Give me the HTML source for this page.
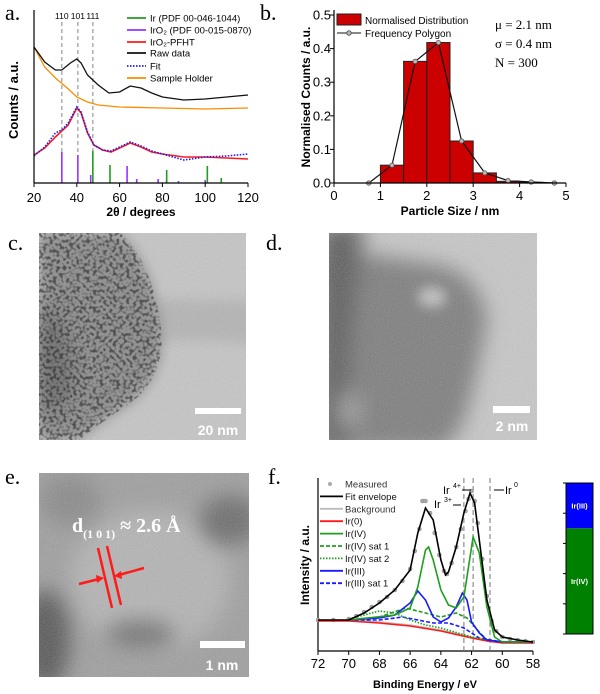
<!DOCTYPE html>
<html><head><meta charset="utf-8">
<style>
html,body{margin:0;padding:0;background:#fff;}
body{width:600px;height:694px;overflow:hidden;position:relative;font-family:"Liberation Sans",sans-serif;}
svg{position:absolute;left:0;top:0;}
.pl{font-family:"Liberation Serif",serif;font-size:22px;}
</style></head>
<body>
<svg id="fig" width="600" height="694" viewBox="0 0 600 694" xmlns="http://www.w3.org/2000/svg">
<defs>
<filter id="noise" x="0" y="0" width="100%" height="100%"><feTurbulence type="fractalNoise" baseFrequency="0.9" numOctaves="2" seed="3"/><feColorMatrix type="saturate" values="0"/><feComponentTransfer><feFuncA type="linear" slope="0.35"/></feComponentTransfer></filter>
<filter id="pores" x="0" y="0" width="100%" height="100%"><feTurbulence type="fractalNoise" baseFrequency="0.3" numOctaves="1" seed="7"/><feColorMatrix type="matrix" values="0 0 0 0 0  0 0 0 0 0  0 0 0 0 0  5 0 0 0 -2.3"/></filter>
<filter id="blur6" x="-50%" y="-50%" width="200%" height="200%"><feGaussianBlur stdDeviation="6"/></filter>
<filter id="blur10" x="-50%" y="-50%" width="200%" height="200%"><feGaussianBlur stdDeviation="10"/></filter>
<clipPath id="cc"><rect x="39" y="233" width="207" height="207"/></clipPath>
<clipPath id="cblob"><path d="M39 233 L120 233 Q150 260 160 320 Q170 380 120 410 Q90 430 80 440 L39 440 Z"/></clipPath>
<clipPath id="cd"><rect x="329" y="233" width="208" height="207"/></clipPath>
<clipPath id="ce"><rect x="39" y="473" width="210" height="204"/></clipPath>
</defs>

<text class="pl" x="5" y="20">a.</text>
<text class="pl" x="260" y="20">b.</text>
<text class="pl" x="8" y="250">c.</text>
<text class="pl" x="266" y="250">d.</text>
<text class="pl" x="5" y="484">e.</text>
<text class="pl" x="268" y="484">f.</text>

<g id="pa"></g>
<g id="pb"></g>

<g clip-path="url(#cc)">
<rect x="39" y="233" width="207" height="207" fill="#c6c6c6"/>
<path d="M150 300 L260 300 L260 345 Q200 338 150 342 Z" fill="#b4b4b4" filter="url(#blur6)"/>
<path d="M39 233 L120 233 Q150 260 160 320 Q170 380 120 410 Q90 430 80 440 L39 440 Z" fill="#8a8a8a" filter="url(#blur6)"/>
<path d="M39 300 Q80 330 70 400 L39 420 Z" fill="#666" filter="url(#blur10)"/>
<g clip-path="url(#cblob)"><rect x="39" y="233" width="140" height="207" filter="url(#pores)" opacity="0.55"/></g>
<rect x="39" y="233" width="207" height="207" filter="url(#noise)"/>
<rect x="195" y="408" width="46" height="6" fill="#fff"/>
<text x="218" y="435" fill="#fff" font-weight="bold" font-size="14" text-anchor="middle">20 nm</text>
</g>

<g clip-path="url(#cd)">
<rect x="329" y="233" width="208" height="207" fill="#c8c8c8"/>
<path d="M329 250 Q380 255 440 265 Q480 275 487 320 Q480 360 470 400 Q460 440 440 450 L329 450 Z" fill="#7c7c7c" filter="url(#blur10)"/>
<path d="M320 225 L365 225 Q350 300 345 450 L320 450 Z" fill="#5a5a5a" filter="url(#blur10)"/>
<ellipse cx="432" cy="297" rx="14" ry="10" fill="#c4c4c4" filter="url(#blur6)"/>
<ellipse cx="350" cy="410" rx="12" ry="18" fill="#a0a0a0" filter="url(#blur10)"/>
<rect x="329" y="233" width="208" height="207" filter="url(#noise)"/>
<rect x="493" y="406" width="37" height="7" fill="#fff"/>
<text x="512" y="431" fill="#fff" font-weight="bold" font-size="14" text-anchor="middle">2 nm</text>
</g>

<g clip-path="url(#ce)">
<rect x="39" y="473" width="210" height="204" fill="#9e9e9e"/>
<ellipse cx="150" cy="580" rx="80" ry="70" fill="#b4b4b4" filter="url(#blur10)"/>
<ellipse cx="45" cy="640" rx="25" ry="50" fill="#555" filter="url(#blur10)"/>
<ellipse cx="140" cy="635" rx="35" ry="15" fill="#737373" filter="url(#blur10)"/>
<ellipse cx="230" cy="520" rx="30" ry="25" fill="#6a6a6a" filter="url(#blur10)"/>
<ellipse cx="70" cy="500" rx="30" ry="25" fill="#888" filter="url(#blur10)"/>
<rect x="39" y="473" width="210" height="204" filter="url(#noise)"/>
<rect x="200" y="641" width="45" height="7" fill="#fff"/>
<text x="222" y="670" fill="#fff" font-weight="bold" font-size="14" text-anchor="middle">1 nm</text>
<text x="72" y="532" fill="#fff" font-family="Liberation Serif,serif" font-weight="bold" font-size="20">d<tspan font-size="12" dy="6">(1 0 1)</tspan><tspan dy="-6"> ≈ 2.6 Å</tspan></text>
<g stroke="#ff1a1a" stroke-width="2.5">
<line x1="98" y1="548" x2="112" y2="608"/><line x1="107" y1="546" x2="121" y2="605"/>
<line x1="79" y1="584" x2="99" y2="579"/><line x1="144" y1="568" x2="119" y2="575"/>
</g>
<polygon points="104,578 96,575 97,583" fill="#ff1a1a"/>
<polygon points="114,576 121,571 122,579" fill="#ff1a1a"/>
</g>

<g id="pf"></g>
<g id="pbar"></g>
</svg>

<script>
// ---------- Panel a data ----------
const xrdRawX = [20,25,30,33,37,40,42,45,50,55,60,65,70,75,80,90,100,110,120];
const xrdRawY = [136,121,113,113,120,124,120,108,98,90,91,97,95,90,86,83,84,86,88];
const holderX = [20,25,30,35,40,45,50,60,80,100,120];
const holderY = [136,116,105,96,86,81,78,76,75,74,75];
const pfhtX = [20,25,30,33,36,40,42,45,48,52,56,60,65,70,75,80,90,100,120];
const pfhtY = [28,35,46,52,58,75,70,50,38,33,31,35,40,36,31,29,26,26,24];
const fitX = [20,25,30,33,36,40,42,45,48,52,56,60,65,70,75,80,90,100,110,120];
const fitY = [27,36,50,53,60,76,71,51,38,33,32,36,41,37,32,29,23,26,27,29];
const irSticksX = [47.5,55.5,82,101,107.5];
const irSticksH = [32,18,13,17,5];
const iro2SticksX = [33,40.5,46.5,63.5,68,78,82,87.5,100];
const iro2SticksH = [31,28,8,17,4,4,3,2,3];
const hklX = [33,40.5,47.5];
const hklLabels = ["110","101","111"];
const xrdTicks = [20,40,60,80,100,120];

// ---------- Panel b data ----------
const binStarts = [1,1.5,2,2.5,3,3.5,4];
const binValues = [0.053,0.362,0.418,0.125,0.03,0.005,0.002];
const polyX = [0.75,1.25,1.75,2.25,2.75,3.25,3.75,4.25,4.75];
const polyY = [0,0.053,0.362,0.418,0.125,0.03,0.007,0.003,0];
const bxTicks = [0,1,2,3,4,5];
const byTicks = [0,0.1,0.2,0.3,0.4,0.5];
const byTickLabels = ["0.0","0.1","0.2","0.3","0.4","0.5"];

// ---------- Panel f data ----------
const envX = [72,70,69,68,67,66,65.5,65,64.5,64,63.7,63.5,63,62.5,62.1,61.8,61.5,61,60.5,60,59,58];
const envY = [31,31,38,48,61,81,118,143,131,91,76,79,104,138,158,148,111,51,21,14,11,9];
const measX = [72,71,70,69.5,69,68.5,68,67.5,67,66.5,66,65.7,65.4,65.2,65,64.7,64.4,64.1,63.8,63.6,63.3,63,62.7,62.4,62.2,62,61.8,61.6,61.3,61,60.7,60.4,60,59.5,59,58.5,58];
const measY = [31,31,32,35,39,44,49,54,61,70,82,100,122,150,150,138,118,96,80,77,88,104,122,140,152,160,150,128,92,55,30,20,14,12,11,10,9];
const bgX = [72,70,68,66,64,62,61,60,58];
const bgY = [31,31,29,26,21,14,11,9,9];
const ir0Y = [30,30,28,25,20,13,10,8,8];
const ir4X = [70,67,66,65.5,65,64.8,64.5,64,63.5,63,62.5,62.2,61.9,61.5,61,60.5,60,58];
const ir4Y = [31,36,43,64,101,104,91,61,46,43,54,84,114,98,44,14,9,9];
const ir3X = [70,68,67,66,65.5,65,64.5,64,63.5,63,62.6,62.3,62,61.5,61,60,58];
const ir3Y = [31,33,36,48,60,51,34,29,33,44,58,51,29,18,11,9,9];
const ir4s1X = [70,68,66.3,65,64,63,62.3,61.5,61,60,58];
const ir4s1Y = [31,34,43,38,34,38,33,19,11,9,9];
const ir4s2X = [70,68,67,66,65,64,62,60,58];
const ir4s2Y = [32,40,38,31,26,23,14,9,9];
const ir3s1X = [70,68,66.5,65.5,64.5,63.5,62.5,61.5,60,58];
const ir3s1Y = [31,31,34,31,28,28,23,13,9,9];
const refLinesX = [62.5,61.9,60.8];
const fxTicks = [72,70,68,66,64,62,60,58];
const irIIIFraction = [0.3];

const NS = "http://www.w3.org/2000/svg";
function mk(parent, tag, attrs, text){
  const el = document.createElementNS(NS, tag);
  for (const k in attrs) el.setAttribute(k, attrs[k]);
  if (text !== undefined) el.textContent = text;
  parent.appendChild(el);
  return el;
}
function pathD(xs, ys, sx, sy){
  return xs.map((x,i)=>(i?"L":"M")+sx(x).toFixed(1)+" "+sy(ys[i]).toFixed(1)).join(" ");
}

// ===== Panel a =====
(function(){
  const g = document.getElementById('pa');
  const X0=34,X1=248,Y0=183;
  const sx = v => X0 + (v-20)/100*(X1-X0);
  const sy = v => Y0 - v;
  hklX.forEach((h,i)=>{
    const l = mk(g,'line',{x1:sx(h),x2:sx(h),y1:22,y2:Y0,stroke:'#999','stroke-width':1.2,'stroke-dasharray':'4,3'});
    
    
    const t = mk(g,'text',{x:sx(h),y:19,'font-size':8.5,'text-anchor':'middle'},hklLabels[i]);
    
    
  });
  iro2SticksX.forEach((x,i)=>{
    const l = mk(g,'line',{x1:sx(x),x2:sx(x),y1:Y0,y2:sy(iro2SticksH[i]),stroke:'#9933ff','stroke-width':1.6});
    
    
  });
  irSticksX.forEach((x,i)=>{
    const l = mk(g,'line',{x1:sx(x),x2:sx(x),y1:Y0,y2:sy(irSticksH[i]),stroke:'#1f9e1f','stroke-width':1.6});
    
    
  });
  const p1 = mk(g,'path',{d:pathD(holderX,holderY,sx,sy),fill:'none',stroke:'#ff8c00','stroke-width':1.3});
   
  const p2 = mk(g,'path',{d:pathD(xrdRawX,xrdRawY,sx,sy),fill:'none',stroke:'#111','stroke-width':1.3});
   
  const p3 = mk(g,'path',{d:pathD(pfhtX,pfhtY,sx,sy),fill:'none',stroke:'#ff1a1a','stroke-width':1.6});
   
  const p4 = mk(g,'path',{d:pathD(fitX,fitY,sx,sy),fill:'none',stroke:'#1a1aff','stroke-width':1.6,'stroke-dasharray':'1.5,1.5'});
   
  mk(g,'line',{x1:X0,x2:X0,y1:10,y2:Y0,stroke:'#000','stroke-width':1.2});
  mk(g,'line',{x1:X0,x2:X1,y1:Y0,y2:Y0,stroke:'#000','stroke-width':1.2});
  xrdTicks.forEach(t=>{
    mk(g,'line',{x1:sx(t),x2:sx(t),y1:Y0,y2:Y0+4,stroke:'#000'});
    const tl = mk(g,'text',{x:sx(t),y:202,'font-size':13,'text-anchor':'middle'},t);
     
  });
  const xl = mk(g,'text',{x:141,y:216,'font-size':12,'font-weight':'bold','text-anchor':'middle'},'2θ / degrees');
   
  const yl = mk(g,'text',{x:0,y:0,'font-size':13,'font-weight':'bold','text-anchor':'middle',transform:'translate(18,100) rotate(-90)'},'Counts / a.u.');
   
  const leg = [['#1f9e1f','','Ir (PDF 00-046-1044)'],['#9933ff','','IrO₂ (PDF 00-015-0870)'],['#ff1a1a','','IrO₂-PFHT'],['#111','','Raw data'],['#1a1aff','1.5,1.5','Fit'],['#ff8c00','','Sample Holder']];
  const ly = [18,30,42,53,66,78];
  leg.forEach((e,i)=>{
    const lg = mk(g,'g',{});
     
    mk(lg,'line',{x1:127,x2:146,y1:ly[i],y2:ly[i],stroke:e[0],'stroke-width':1.8,'stroke-dasharray':e[1]||'none'});
    mk(lg,'text',{x:150,y:ly[i]+3.5,'font-size':9.5},e[2]);
  });
})();

// ===== Panel b =====
(function(){
  const g = document.getElementById('pb');
  const X0=334,X1=566,Y0=183,YT=15;
  const sx = v => X0 + v/5*(X1-X0);
  const sy = v => Y0 - v/0.5*(Y0-YT);
  binStarts.forEach((b,i)=>{
    const r = mk(g,'rect',{x:sx(b),y:sy(binValues[i]),width:sx(b+0.5)-sx(b),height:Y0-sy(binValues[i]),fill:'#cc0000',stroke:'#222','stroke-width':1});
     
  });
  const pl = mk(g,'path',{d:pathD(polyX,polyY,sx,sy),fill:'none',stroke:'#111','stroke-width':1.2});
   
  polyX.forEach((x,i)=>{
    const c = mk(g,'circle',{cx:sx(x),cy:sy(polyY[i]),r:2.2,fill:'#bbb',stroke:'#555','stroke-width':0.8});
     
  });
  mk(g,'line',{x1:X0,x2:X0,y1:10,y2:Y0,stroke:'#000','stroke-width':1.2});
  mk(g,'line',{x1:X0,x2:X1,y1:Y0,y2:Y0,stroke:'#000','stroke-width':1.2});
  bxTicks.forEach(t=>{
    mk(g,'line',{x1:sx(t),x2:sx(t),y1:Y0,y2:Y0+4,stroke:'#000'});
    const tl = mk(g,'text',{x:sx(t),y:200,'font-size':13,'text-anchor':'middle'},t);
     
  });
  byTicks.forEach((t,i)=>{
    mk(g,'line',{x1:X0-4,x2:X0,y1:sy(t),y2:sy(t),stroke:'#000'});
    const tl = mk(g,'text',{x:X0-3,y:sy(t)+4.5,'font-size':13,'text-anchor':'end'},byTickLabels[i]);
     
  });
  const xl = mk(g,'text',{x:450,y:215,'font-size':12,'font-weight':'bold','text-anchor':'middle'},'Particle Size / nm');
   
  const yl = mk(g,'text',{x:0,y:0,'font-size':12,'font-weight':'bold','text-anchor':'middle',transform:'translate(310,97) rotate(-90)'},'Normalised Counts / a.u.');
   
  const l1 = mk(g,'g',{});  
  mk(l1,'rect',{x:337,y:14,width:24,height:11,fill:'#cc0000',stroke:'#222'});
  mk(l1,'text',{x:365,y:24,'font-size':10},'Normalised Distribution');
  const l2 = mk(g,'g',{});  
  mk(l2,'line',{x1:337,x2:361,y1:33,y2:33,stroke:'#111'});
  mk(l2,'circle',{cx:349,cy:33,r:2.2,fill:'#bbb',stroke:'#555'});
  mk(l2,'text',{x:365,y:37,'font-size':10},'Frequency Polygon');
  ['μ = 2.1 nm','σ = 0.4 nm','N = 300'].forEach((s,i)=>{
    const t = mk(g,'text',{x:495,y:29+i*19,'font-size':13,'font-family':'Liberation Serif, serif'},s);
     
  });
})();

// ===== Panel f =====
(function(){
  const g = document.getElementById('pf');
  const X0=318,X1=533,Y0=651,YT=478;
  const sx = v => X0 + (72-v)/14*(X1-X0);
  const sy = v => Y0 - v;
  mk(g,'line',{x1:X0,x2:X0,y1:YT,y2:Y0,stroke:'#000','stroke-width':1.2});
  mk(g,'line',{x1:X0,x2:X1,y1:Y0,y2:Y0,stroke:'#000','stroke-width':1.2});
  refLinesX.forEach(x=>{
    const l = mk(g,'line',{x1:sx(x),x2:sx(x),y1:YT,y2:Y0,stroke:'#777','stroke-width':1,'stroke-dasharray':'5,3'});
     
  });
  measX.forEach((x,i)=>{
    const c = mk(g,'circle',{cx:sx(x),cy:sy(measY[i]),r:2,fill:'#aaa',stroke:'#888','stroke-width':0.5});
     
  });
  const series = [
    [bgX,bgY,'#bbb','', 'background-line'],
    [bgX,ir0Y,'#ff1a1a','', 'ir0-line'],
    [ir3s1X,ir3s1Y,'#1a1aff','4,2','ir3-sat1-line'],
    [ir4s2X,ir4s2Y,'#1f9e1f','1.5,1.5','ir4-sat2-line'],
    [ir4s1X,ir4s1Y,'#1f9e1f','4,2','ir4-sat1-line'],
    [ir3X,ir3Y,'#1a1aff','','ir3-line'],
    [ir4X,ir4Y,'#1f9e1f','','ir4-line'],
    [envX,envY,'#000','','fit-envelope-line']
  ];
  series.forEach(s=>{
    const p = mk(g,'path',{d:pathD(s[0],s[1],sx,sy),fill:'none',stroke:s[2],'stroke-width':1.6,'stroke-dasharray':s[3]||'none'});
     
  });
  fxTicks.forEach(t=>{
    mk(g,'line',{x1:sx(t),x2:sx(t),y1:Y0,y2:Y0+4,stroke:'#000'});
    const tl = mk(g,'text',{x:sx(t),y:668,'font-size':13,'text-anchor':'middle'},t);
     
  });
  const xl = mk(g,'text',{x:425,y:688,'font-size':11,'font-weight':'bold','text-anchor':'middle'},'Binding Energy / eV');
   
  const yl = mk(g,'text',{x:0,y:0,'font-size':12,'font-weight':'bold','text-anchor':'middle',transform:'translate(309,565) rotate(-90)'},'Intensity / a.u.');
   
  const an = mk(g,'g',{'font-size':11});  
  mk(an,'text',{x:443,y:494},'Ir'); mk(an,'text',{x:453,y:488,'font-size':7},'4+');
  mk(an,'line',{x1:462,x2:471,y1:490,y2:490,stroke:'#000'});
  mk(an,'text',{x:434,y:508},'Ir'); mk(an,'text',{x:444,y:502,'font-size':7},'3+');
  mk(an,'line',{x1:453,x2:461,y1:505,y2:505,stroke:'#000'});
  mk(an,'line',{x1:494,x2:504,y1:490,y2:490,stroke:'#000'});
  mk(an,'text',{x:505,y:494},'Ir'); mk(an,'text',{x:514,y:487,'font-size':7},'0');
  const leg = [['pt','','Measured'],['#000','','Fit envelope'],['#bbb','','Background'],['#ff1a1a','','Ir(0)'],['#1f9e1f','','Ir(IV)'],['#1f9e1f','4,2','Ir(IV) sat 1'],['#1f9e1f','1.5,1.5','Ir(IV) sat 2'],['#1a1aff','','Ir(III)'],['#1a1aff','4,2','Ir(III) sat 1']];
  leg.forEach((e,i)=>{
    const y = 484 + i*12.4;
    const lg = mk(g,'g',{});
     
    if (e[0]==='pt') mk(lg,'circle',{cx:330,cy:y,r:2,fill:'#aaa'});
    else mk(lg,'line',{x1:320,x2:343,y1:y,y2:y,stroke:e[0],'stroke-width':1.8,'stroke-dasharray':e[1]||'none'});
    mk(lg,'text',{x:345,y:y+3.5,'font-size':9.5,fill:(e[0]==='pt'||e[0]==='#bbb')?'#333':'#111'},e[2]);
  });
})();

// ===== composition bar =====
(function(){
  const g = document.getElementById('pbar');
  const X=566,W=27,YT=483,YB=634;
  const split = YT + irIIIFraction[0]*(YB-YT);
  const b1 = mk(g,'rect',{x:X,y:YT,width:W,height:split-YT,fill:'#0000ff'});
   
  const b2 = mk(g,'rect',{x:X,y:split,width:W,height:YB-split,fill:'#008000'});
   
  mk(g,'rect',{x:X,y:YT,width:W,height:YB-YT,fill:'none',stroke:'#000','stroke-width':1});
  [0,0.2,0.4,0.6,0.8,1].forEach(f=>mk(g,'line',{x1:X-3,x2:X,y1:YT+f*(YB-YT),y2:YT+f*(YB-YT),stroke:'#000'}));
  mk(g,'text',{x:X+W/2,y:(YT+split)/2+3,'font-size':7.5,'font-weight':'bold',fill:'#fff','text-anchor':'middle'},'Ir(III)');
  mk(g,'text',{x:X+W/2,y:(split+YB)/2+3,'font-size':7.5,'font-weight':'bold',fill:'#fff','text-anchor':'middle'},'Ir(IV)');
})();
</script>
</body></html>
